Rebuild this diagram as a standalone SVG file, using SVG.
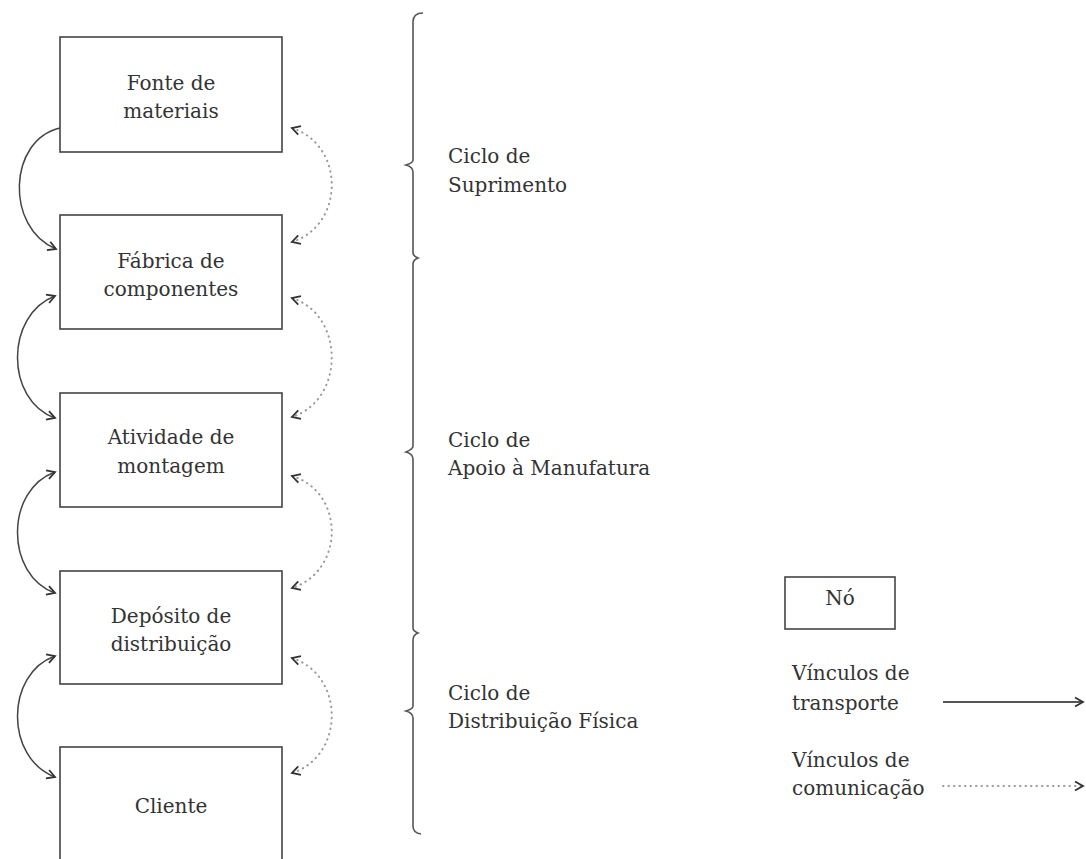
<svg xmlns="http://www.w3.org/2000/svg" width="1086" height="859" viewBox="0 0 1086 859">
<style>
  .box { fill: #ffffff; stroke: #444444; stroke-width: 1.6; }
  .lbl { font-family: "DejaVu Serif", "Liberation Serif", serif; font-size: 20px; fill: #333333; }
  .mid { text-anchor: middle; }
  .solid { fill: none; stroke: #444444; stroke-width: 1.5; }
  .dots { fill: none; stroke: #9a9a9a; stroke-width: 2; stroke-dasharray: 0.5 5; stroke-linecap: round; }
  .brace { fill: none; stroke: #555555; stroke-width: 1.6; }
</style>
<defs>
  <marker id="ah" markerUnits="userSpaceOnUse" markerWidth="14" markerHeight="14" refX="9" refY="5" orient="auto-start-reverse" viewBox="0 0 14 10">
    <path d="M1,0.5 L9,5 L1,9.5" fill="none" stroke="#333333" stroke-width="1.8" stroke-linejoin="miter"/>
  </marker>
</defs>
<rect width="1086" height="859" fill="#ffffff"/>

<g id="node-fonte">
  <rect class="box" x="60" y="37" width="222" height="115"/>
  <text class="lbl mid" x="171" y="90">Fonte de</text>
  <text class="lbl mid" x="171" y="118">materiais</text>
</g>
<g id="node-fabrica">
  <rect class="box" x="60" y="215" width="222" height="114"/>
  <text class="lbl mid" x="171" y="268">Fábrica de</text>
  <text class="lbl mid" x="171" y="296">componentes</text>
</g>
<g id="node-montagem">
  <rect class="box" x="60" y="393" width="222" height="114"/>
  <text class="lbl mid" x="171" y="444">Atividade de</text>
  <text class="lbl mid" x="171" y="473">montagem</text>
</g>
<g id="node-deposito">
  <rect class="box" x="60" y="571" width="222" height="113"/>
  <text class="lbl mid" x="171" y="623">Depósito de</text>
  <text class="lbl mid" x="171" y="651">distribuição</text>
</g>
<g id="node-cliente">
  <rect class="box" x="60" y="747" width="222" height="125"/>
  <text class="lbl mid" x="171" y="813">Cliente</text>
</g>

<g id="connectors">
  <path class="solid" d="M60,128 C8,140 5,228 56,249" marker-end="url(#ah)"/>
  <path class="solid" d="M55,296 C5,315 5,400 55,418" marker-start="url(#ah)" marker-end="url(#ah)"/>
  <path class="solid" d="M55,472 C5,490 5,575 55,593" marker-start="url(#ah)" marker-end="url(#ah)"/>
  <path class="solid" d="M55,656 C5,674 5,758 55,777" marker-start="url(#ah)" marker-end="url(#ah)"/>

  <path class="dots" d="M292,128 C345,145 345,225 292,242" marker-start="url(#ah)" marker-end="url(#ah)"/>
  <path class="dots" d="M292,298 C345,315 345,400 292,417" marker-start="url(#ah)" marker-end="url(#ah)"/>
  <path class="dots" d="M292,476 C345,492 345,571 292,588" marker-start="url(#ah)" marker-end="url(#ah)"/>
  <path class="dots" d="M292,658 C345,675 345,756 292,773" marker-start="url(#ah)" marker-end="url(#ah)"/>
</g>

<g id="brace">
  <path class="brace" d="M423,13 Q413,13 413,22 L413,160 Q413,163 406,165 Q413,167 413,172 L413,253 Q413,256 418,258 Q413,260 413,264 L413,446 Q413,449 406,452 Q413,454 413,459 L413,628 Q413,631 418,633 Q413,635 413,640 L413,706 Q413,709 406,711 Q413,713 413,718 L413,826 Q413,833 421,834"/>
</g>

<g id="cycle-labels">
  <text class="lbl" x="448" y="163">Ciclo de</text>
  <text class="lbl" x="448" y="192">Suprimento</text>
  <text class="lbl" x="448" y="447">Ciclo de</text>
  <text class="lbl" x="448" y="475">Apoio à Manufatura</text>
  <text class="lbl" x="448" y="700">Ciclo de</text>
  <text class="lbl" x="448" y="728">Distribuição Física</text>
</g>

<g id="legend">
  <g id="legend-node">
    <rect class="box" x="785" y="577" width="110" height="52"/>
    <text class="lbl mid" x="840" y="605">Nó</text>
  </g>
  <text class="lbl" x="792" y="680">Vínculos de</text>
  <text class="lbl" x="792" y="710">transporte</text>
  <line x1="943" y1="702" x2="1083" y2="702" stroke="#555555" stroke-width="2" marker-end="url(#ah)"/>
  <text class="lbl" x="792" y="767">Vínculos de</text>
  <text class="lbl" x="792" y="795">comunicação</text>
  <line class="dots" x1="943" y1="786" x2="1083" y2="786" marker-end="url(#ah)"/>
</g>
</svg>
